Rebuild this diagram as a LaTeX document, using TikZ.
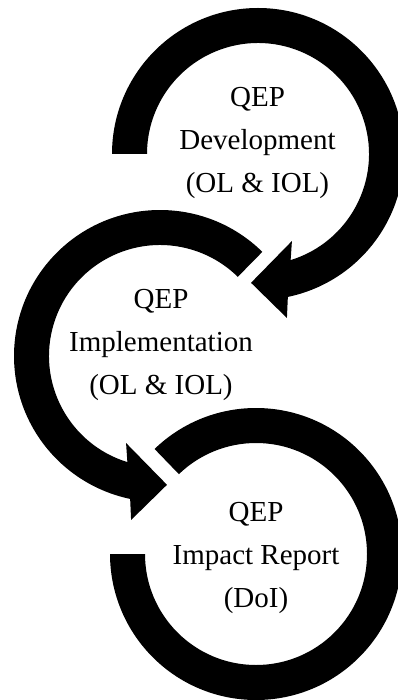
\documentclass[tikz,border=0pt]{standalone}
\usepackage{fontspec}
\setmainfont{Liberation Serif}
\usetikzlibrary{calc}

\begin{document}
\begin{tikzpicture}[x=1pt, y=1pt]
\tikzset{band/.style={fill=black, draw=none},
         qeptext/.style={align=center, font=\fontsize{29}{43}\selectfont, inner sep=0pt}}

\useasboundingbox (0,0) rectangle (398,-700);

\coordinate (dev) at (258,-154);
\coordinate (imp) at (160,-356);
\coordinate (rep) at (256,-554);

% development, arrow into implementation
\fill[band] ($(dev)+(180:146)$) arc[start angle=180, end angle=-78.2, radius=146]
  -- ($(dev)+(-80:166.5)$) -- ($(dev)+(-93.1:129)$) -- ($(dev)+(-68.7:93.4)$)
  -- ($(dev)+(-72.9:111)$) arc[start angle=-72.9, end angle=180, radius=111] -- cycle;

% implementation, arrow into impact report
\fill[band] ($(imp)+(45.5:146)$) arc[start angle=45.5, end angle=258.2, radius=146]
  -- ($(imp)+(260:166.5)$) -- ($(imp)+(273.1:129)$) -- ($(imp)+(248.7:93.4)$)
  -- ($(imp)+(252.9:111)$) arc[start angle=252.9, end angle=45.5, radius=111] -- cycle;

% impact report
\fill[band] ($(rep)+(134:146)$) arc[start angle=134, end angle=-180, radius=146]
  -- ($(rep)+(180:111)$) arc[start angle=-180, end angle=134, radius=111] -- cycle;

\node[qeptext] (devtext) at (257.5,-142.5) {QEP\\Development\\(OL \& IOL)};
\node[qeptext] (imptext) at (161,-344.5) {QEP\\Implementation\\(OL \& IOL)};
\node[qeptext] (reptext) at (256,-557.5) {QEP\\Impact Report\\(DoI)};

\end{tikzpicture}
\end{document}
